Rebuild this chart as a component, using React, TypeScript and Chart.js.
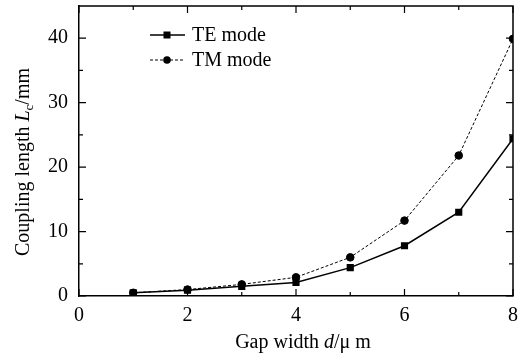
import React, { useEffect, useRef } from "react";
import { Chart, registerables } from "chart.js";

Chart.register(...registerables);

const gapWidths = [1, 2, 3, 4, 5, 6, 7, 8];
const teMode = [0.5, 0.9, 1.5, 2.1, 4.4, 7.8, 13.0, 24.4];
const tmMode = [0.5, 1.0, 1.8, 2.9, 6.0, 11.7, 21.8, 39.9];
const xTickValues = [0, 2, 4, 6, 8];
const xMinorValues = [1, 3, 5, 7];
const yTickValues = [0, 10, 20, 30, 40];
const yMinorValues = [5, 15, 25, 35];
const legendLabels = ["TE mode", "TM mode"];

const FONT = "'Liberation Serif', 'Times New Roman', serif";

const framePlugin = {
  id: "frame",
  afterDraw(chart: any) {
    const ctx = chart.ctx;
    const { left, right, top, bottom } = chart.chartArea;
    const xs = chart.scales.x;
    const ys = chart.scales.y;
    ctx.save();
    ctx.strokeStyle = "#000";
    ctx.lineWidth = 1.5;
    ctx.setLineDash([]);
    ctx.beginPath();
    ctx.moveTo(left, top);
    ctx.lineTo(right, top);
    ctx.lineTo(right, bottom);
    ctx.stroke();
    // ticks
    const major = 7;
    const minor = 4;
    ctx.lineWidth = 1.2;
    ctx.beginPath();
    const xt = (v: number, len: number) => {
      const p = xs.getPixelForValue(v);
      ctx.moveTo(p, bottom);
      ctx.lineTo(p, bottom - len);
      ctx.moveTo(p, top);
      ctx.lineTo(p, top + len);
    };
    xTickValues.forEach((v) => xt(v, major));
    xMinorValues.forEach((v) => xt(v, minor));
    const yt = (v: number, len: number) => {
      const p = ys.getPixelForValue(v);
      ctx.moveTo(left, p);
      ctx.lineTo(left + len, p);
      ctx.moveTo(right, p);
      ctx.lineTo(right - len, p);
    };
    yTickValues.forEach((v) => yt(v, major));
    yMinorValues.forEach((v) => yt(v, minor));
    ctx.stroke();

    // legend
    const rows = [
      { y: 35, dash: [] as number[], lw: 1.5, style: "rect", label: legendLabels[0] },
      { y: 60, dash: [3, 2], lw: 1, style: "circle", label: legendLabels[1] },
    ];
    rows.forEach((r) => {
      ctx.strokeStyle = "#000";
      ctx.fillStyle = "#000";
      ctx.lineWidth = r.lw;
      ctx.setLineDash(r.dash);
      ctx.beginPath();
      ctx.moveTo(150, r.y);
      ctx.lineTo(185, r.y);
      ctx.stroke();
      ctx.setLineDash([]);
      if (r.style === "rect") {
        ctx.fillRect(167 - 3.5, r.y - 3.5, 7, 7);
      } else {
        ctx.beginPath();
        ctx.arc(167, r.y, 3.8, 0, Math.PI * 2);
        ctx.fill();
      }
      ctx.font = `20px ${FONT}`;
      ctx.textAlign = "left";
      ctx.textBaseline = "middle";
      ctx.fillText(r.label, 192, r.y + 1);
    });

    // x title
    ctx.fillStyle = "#000";
    ctx.textBaseline = "alphabetic";
    const xParts = [
      { t: "Gap width ", f: `20px ${FONT}` },
      { t: "d", f: `italic 20px ${FONT}` },
      { t: "/\u03bc m", f: `20px ${FONT}` },
    ];
    let total = 0;
    xParts.forEach((p) => {
      ctx.font = p.f;
      total += ctx.measureText(p.t).width;
    });
    let cx = 303 - total / 2;
    const xy = 348;
    xParts.forEach((p) => {
      ctx.font = p.f;
      ctx.textAlign = "left";
      ctx.fillText(p.t, cx, xy);
      cx += ctx.measureText(p.t).width;
    });

    // y title (rotated)
    ctx.save();
    ctx.translate(29, 162);
    ctx.rotate(-Math.PI / 2);
    const yParts = [
      { t: "Coupling length ", f: `20px ${FONT}`, dy: 0 },
      { t: "L", f: `italic 20px ${FONT}`, dy: 0 },
      { t: "c", f: `13px ${FONT}`, dy: 4 },
      { t: "/mm", f: `20px ${FONT}`, dy: 0 },
    ];
    let tw = 0;
    yParts.forEach((p) => {
      ctx.font = p.f;
      tw += ctx.measureText(p.t).width;
    });
    let px = -tw / 2;
    yParts.forEach((p) => {
      ctx.font = p.f;
      ctx.textAlign = "left";
      ctx.fillText(p.t, px, p.dy);
      px += ctx.measureText(p.t).width;
    });
    ctx.restore();
    ctx.restore();
  },
};

export default function App() {
  const ref = useRef<HTMLCanvasElement | null>(null);
  useEffect(() => {
    document.body.style.margin = "0";
    const canvas = ref.current;
    if (!canvas) return;
    const chart = new Chart(canvas, {
      type: "line",
      data: {
        datasets: [
          {
            label: legendLabels[0],
            data: gapWidths.map((x, i) => ({ x, y: teMode[i] })),
            borderColor: "#000",
            backgroundColor: "#000",
            borderWidth: 1.5,
            pointStyle: "rect",
            pointRadius: 4,
            tension: 0,
          },
          {
            label: legendLabels[1],
            data: gapWidths.map((x, i) => ({ x, y: tmMode[i] })),
            borderColor: "#000",
            backgroundColor: "#000",
            borderWidth: 1,
            borderDash: [3, 2],
            pointStyle: "circle",
            pointRadius: 3.8,
            tension: 0,
          },
        ],
      },
      options: {
        animation: false,
        responsive: false,
        maintainAspectRatio: false,
        layout: { padding: { left: 0, right: 12, top: 6, bottom: 0 } },
        plugins: {
          legend: { display: false },
          tooltip: { enabled: false },
        },
        scales: {
          x: {
            type: "linear",
            min: 0,
            max: 8,
            grid: { display: false, drawTicks: false },
            border: { display: true, color: "#000", width: 1.5 },
            afterBuildTicks: (s: any) => {
              s.ticks = xTickValues.map((v) => ({ value: v }));
            },
            afterFit: (s: any) => {
              s.height = 59;
              s.paddingLeft = 0;
              s.paddingRight = 0;
            },
            ticks: {
              color: "#000",
              padding: 8,
              maxRotation: 0,
              autoSkip: false,
              font: { family: FONT, size: 20 },
            },
          },
          y: {
            type: "linear",
            min: 0,
            max: 45,
            grid: { display: false, drawTicks: false },
            border: { display: true, color: "#000", width: 1.5 },
            afterBuildTicks: (s: any) => {
              s.ticks = yTickValues.map((v) => ({ value: v }));
            },
            afterFit: (s: any) => {
              s.width = 79;
              s.paddingTop = 0;
              s.paddingBottom = 0;
            },
            ticks: {
              color: "#000",
              padding: 11,
              autoSkip: false,
              font: { family: FONT, size: 20 },
            },
          },
        },
      },
      plugins: [framePlugin],
    });
    return () => chart.destroy();
  }, []);
  return (
    <div style={{ position: "relative", width: 525, height: 355, background: "#fff" }}>
      <canvas ref={ref} width={525} height={355} style={{ display: "block" }} />
    </div>
  );
}
